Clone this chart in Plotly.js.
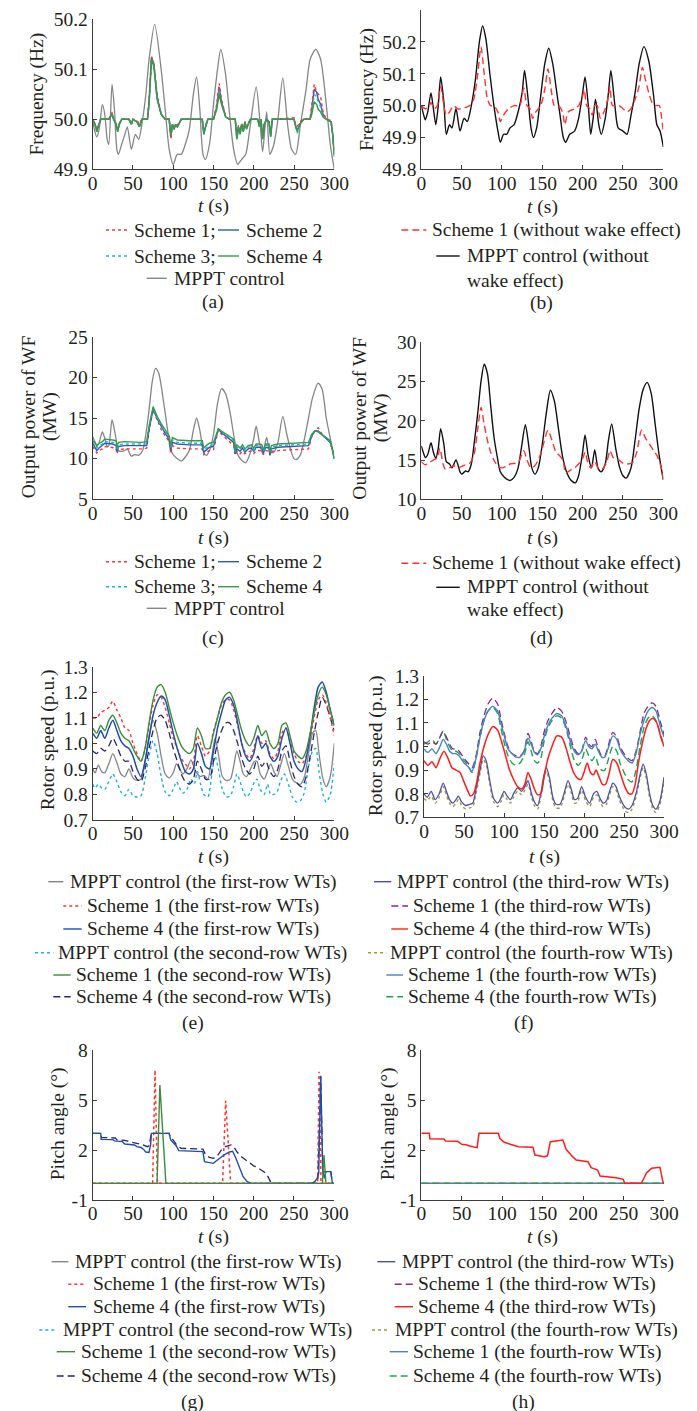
<!DOCTYPE html>
<html><head><meta charset="utf-8">
<script src="https://cdn.plot.ly/plotly-3.0.1.min.js"></script>
<style>html,body{margin:0;padding:0;background:#fff;}#chart{width:697px;height:1411px;}</style>
</head><body><div id="chart"></div>
<script>
// ---------- shared ticks ----------
const tTicks = [0,50,100,150,200,250,300];
const tickA = [49.9,50.0,50.1,50.2];
const tickB = [49.8,49.9,50.0,50.1,50.2,50.3];
const tickC = [5,10,15,20,25];
const tickD = [10,15,20,25,30];
const tickE = [0.7,0.8,0.9,1.0,1.1,1.2,1.3];
const tickG = [-1,2,5,8];
const tickGText = ['-1','2','5','8'];

// ---------- (a) frequency ----------
const tA_mppt = [0,2,5,8,12,15,18,20,24,27,30,32,36,40,43,48,53,57,62,66,70,77,85,90,95,100,105,110,115,120,125,129,133,137,140,145,150,155,159,165,170,175,180,185,190,195,203,208,211,216,220,225,230,236,242,247,252,258,265,270,277,283,290,295,300];
const fA_mppt = [50.0,49.98,49.965,49.98,50.03,50.01,49.96,49.95,50.07,50.02,49.94,49.93,49.95,49.97,49.985,49.94,49.97,49.96,50.0,50.05,50.12,50.19,50.1,50.02,49.94,49.91,49.93,49.93,49.95,49.98,50.05,50.085,50.02,49.93,49.92,49.95,50.03,50.1,50.14,50.09,50.01,49.94,49.91,49.92,49.93,49.98,50.065,49.99,49.935,50.015,49.93,49.95,50.0,50.083,49.99,49.94,49.93,49.99,50.06,50.12,50.14,50.12,50.03,49.95,49.90];
const tA_s = [0,3,5,8,10,20,22,24,26,29,31,33,36,45,48,50,55,58,61,68,70,73,76,80,85,90,95,97,99,101,103,105,110,136,138,140,143,150,154,157,160,165,170,177,179,181,183,185,187,189,191,193,196,205,207,209,211,213,216,219,221,223,250,252,254,257,262,270,272,275,278,280,283,286,290,296,298,300];
const fA_s1 = [50.0,49.99,49.98,49.99,50.0,50.0,50.01,50.013,50.0,49.992,49.98,49.992,50.0,50.0,49.995,50.0,49.998,49.99,50.0,50.0,50.04,50.125,50.11,50.05,50.01,50.0,50.0,49.96,49.99,49.982,49.99,49.988,50.0,50.0,49.975,49.988,50.0,50.0,50.03,50.072,50.04,50.005,50.0,50.0,49.965,49.988,49.975,49.992,49.98,49.995,49.985,49.992,50.0,50.0,49.99,50.0,49.965,49.99,50.0,49.998,49.97,50.0,50.003,49.99,49.985,49.995,50.0,50.002,50.03,50.07,50.055,50.05,50.045,50.015,50.0,49.998,49.97,49.94];
const fA_s2 = [50.0,49.99,49.978,49.99,50.0,50.0,50.008,50.012,50.0,49.99,49.978,49.99,50.0,50.0,49.99,50.0,49.995,49.985,50.0,50.0,50.035,50.125,50.11,50.045,50.01,50.0,50.0,49.965,49.99,49.98,49.99,49.985,50.0,50.0,49.972,49.985,50.0,50.0,50.025,50.065,50.035,50.005,50.0,50.0,49.962,49.985,49.972,49.99,49.977,49.995,49.982,49.99,50.0,50.0,49.987,50.0,49.962,49.99,50.0,49.995,49.967,50.0,50.0,49.985,49.978,49.99,50.0,50.0,50.02,50.06,50.055,50.04,50.03,50.01,50.0,49.995,49.97,49.93];
const fA_s3 = [50.0,49.99,49.976,49.99,50.0,50.0,50.006,50.01,50.0,49.99,49.976,49.99,50.0,50.0,49.99,50.0,49.995,49.985,50.0,50.0,50.032,50.12,50.105,50.042,50.01,50.0,50.0,49.966,49.99,49.98,49.99,49.985,50.0,50.0,49.97,49.985,50.0,50.0,50.022,50.06,50.032,50.005,50.0,50.0,49.962,49.985,49.97,49.99,49.975,49.995,49.98,49.99,50.0,50.0,49.985,50.0,49.96,49.99,50.0,49.995,49.965,50.0,50.0,49.982,49.972,49.99,50.0,50.0,50.015,50.05,50.045,50.035,50.025,50.008,50.0,49.995,49.97,49.93];
const fA_s4 = [50.0,49.99,49.975,49.99,50.0,50.0,50.005,50.01,50.0,49.99,49.975,49.99,50.0,50.0,49.99,50.0,49.995,49.985,50.0,50.0,50.03,50.12,50.105,50.04,50.01,50.0,50.0,49.968,49.99,49.98,49.99,49.985,50.0,50.0,49.97,49.985,50.0,50.0,50.02,50.05,50.03,50.005,50.0,50.0,49.96,49.985,49.97,49.99,49.975,49.995,49.98,49.99,50.0,50.0,49.985,50.0,49.96,49.99,50.0,49.995,49.965,50.0,50.0,49.985,49.975,49.99,50.0,50.0,50.01,50.035,50.03,50.02,50.015,50.005,50.0,49.995,49.97,49.925];

// ---------- (b) frequency without wake ----------
const tB_mppt = [0,3,5,8,12,15,18,21,24,28,31,35,38,43,48,53,57,62,67,72,76,80,85,90,95,98,102,106,110,115,120,125,128,132,136,139,143,148,153,158,163,168,172,176,179,184,190,195,200,203,207,210,213,216,220,223,228,232,235,240,244,250,255,260,265,270,276,282,288,292,296,300];
const fB_mppt = [50.0,49.97,49.955,49.98,50.04,49.99,49.94,50.0,50.09,50.01,49.91,49.94,49.93,49.99,49.92,49.96,49.95,50.0,50.08,50.2,50.25,50.21,50.1,50.0,49.92,49.885,49.91,49.91,49.93,49.94,49.98,50.04,50.11,50.03,49.93,49.9,49.93,50.03,50.13,50.18,50.13,50.04,49.97,49.9,49.885,49.91,49.92,49.96,50.04,50.09,50.0,49.91,49.96,50.02,49.94,49.91,49.96,50.04,50.11,50.0,49.93,49.92,49.91,49.97,50.04,50.13,50.185,50.14,50.03,49.94,49.92,49.87];
const tB_s1 = [0,5,10,12,16,20,24,28,31,35,40,45,50,60,65,70,74,78,82,86,90,95,98,102,108,115,122,127,131,135,138,142,148,153,157,161,165,170,175,178,182,190,195,200,202,205,209,212,215,218,222,228,232,234,237,245,250,255,260,265,270,274,278,282,286,290,295,298,300];
const fB_s1 = [50.0,49.99,50.0,50.01,49.99,50.0,50.06,50.0,49.97,49.98,50.0,49.99,49.99,50.0,50.02,50.1,50.185,50.1,50.02,50.0,50.0,49.98,49.95,49.97,49.99,50.0,50.0,50.055,50.0,49.99,49.96,49.98,50.0,50.05,50.115,50.05,50.0,50.0,49.98,49.94,49.98,49.99,50.0,50.03,50.05,50.0,49.99,49.97,50.0,50.0,49.96,49.99,50.03,50.06,50.0,50.0,49.99,49.98,49.99,50.02,50.06,50.12,50.08,50.04,50.01,50.0,50.0,49.96,49.92];

// ---------- (c) output power ----------
const tC_mppt = [0,3,5,8,12,15,18,20,24,28,32,35,40,43,48,52,57,62,66,70,74,78,82,88,93,97,100,105,110,115,120,125,129,133,138,141,145,150,155,160,165,170,175,180,185,190,195,200,203,207,211,216,220,225,230,236,241,246,250,253,258,263,268,273,280,285,290,295,300];
const pC_mppt = [12.7,12.0,11.5,12.0,13.3,12.5,11.5,11.6,14.8,13.0,11.0,10.9,11.0,11.2,10.3,10.5,10.4,11.0,13.0,16.0,19.5,21.1,20.5,17.0,13.5,11.0,10.5,10.0,9.7,10.2,11.0,13.5,15.0,13.5,10.7,10.4,11.0,13.0,16.8,18.6,18.0,16.0,13.0,10.5,9.8,9.5,10.5,12.5,14.0,12.0,10.6,12.6,10.8,10.8,12.0,15.2,13.0,11.0,10.0,9.9,10.5,12.5,15.0,17.5,19.3,18.5,15.0,12.5,10.0];
const tC_s = [0,3,5,8,12,15,25,29,30,32,40,60,67,70,75,80,85,90,95,97,99,105,120,136,138,141,145,150,156,160,165,170,175,177,179,183,186,189,193,197,200,203,207,210,212,215,219,220,222,230,250,268,272,276,280,285,290,295,298,300];
const pC_s1 = [11.5,11.0,10.7,11.0,11.2,11.5,11.4,11.3,10.6,11.1,11.2,11.2,11.3,13.4,16.0,14.7,13.6,12.8,12.1,10.6,11.6,11.3,11.2,11.2,10.5,10.8,11.0,11.1,13.5,13.0,12.5,12.1,11.6,10.4,10.9,10.6,10.9,10.6,10.9,10.9,10.6,11.0,11.0,10.9,10.5,11.0,10.9,10.4,10.9,11.0,11.1,11.2,12.7,13.5,13.8,13.0,12.5,12.0,11.0,10.0];
const pC_s2 = [11.9,11.4,11.0,11.3,11.6,11.9,11.8,11.6,10.9,11.5,11.6,11.6,11.6,13.6,16.1,14.9,13.9,13.1,12.4,11.0,12.0,11.8,11.7,11.7,10.8,11.1,11.4,11.5,13.6,13.2,12.8,12.5,12.0,10.6,11.2,10.9,11.3,10.8,11.2,11.3,10.9,11.4,11.4,11.3,10.7,11.4,11.3,10.5,11.2,11.4,11.5,11.6,12.8,13.4,13.4,12.9,12.4,12.0,11.0,10.0];
const pC_s3 = [12.0,11.7,11.3,11.6,11.8,12.1,12.0,11.9,11.1,11.7,11.8,11.8,11.8,13.8,16.2,15.0,14.0,13.3,12.6,11.3,12.3,12.0,11.9,11.9,11.0,11.3,11.6,11.7,13.6,13.3,12.9,12.6,12.2,10.8,11.4,11.1,11.5,11.0,11.4,11.5,11.1,11.6,11.6,11.5,10.9,11.6,11.6,10.7,11.4,11.6,11.7,11.8,12.9,13.4,13.3,12.9,12.5,12.1,11.0,10.0];
const pC_s4 = [12.2,12.0,11.6,11.9,12.1,12.4,12.3,12.2,11.4,12.0,12.1,12.0,12.1,14.0,16.4,15.2,14.3,13.5,12.8,11.6,12.6,12.3,12.2,12.2,11.3,11.6,11.9,12.0,13.7,13.4,13.1,12.8,12.4,11.0,11.7,11.3,11.7,11.2,11.6,11.7,11.3,11.8,11.8,11.7,11.1,11.8,11.8,10.8,11.6,11.8,11.9,12.0,13.0,13.4,13.3,13.0,12.6,12.2,11.0,10.0];

// ---------- (d) output power without wake ----------
const tD_mppt = [0,3,5,8,12,15,18,21,24,28,31,35,38,43,48,50,55,58,62,66,70,74,78,82,86,90,94,98,103,110,115,120,124,129,133,137,141,145,150,155,160,165,170,175,180,185,191,195,200,203,207,211,215,219,223,228,232,236,241,246,250,254,260,265,270,275,280,285,290,295,300];
const pD_mppt = [16.8,15.8,15.3,15.7,17.2,16.0,15.2,16.5,19.0,17.0,14.8,14.5,14.0,15.0,13.5,13.2,13.6,13.5,14.5,17.5,21.0,25.0,27.2,26.0,22.0,18.0,15.5,13.5,12.8,12.4,12.8,14.0,16.5,19.5,17.0,14.0,13.2,14.0,17.0,21.0,23.9,22.5,19.0,15.5,13.5,12.5,12.1,13.0,16.0,18.2,15.5,14.0,16.3,14.0,13.5,14.5,17.5,19.6,16.5,14.0,13.0,12.7,14.0,17.5,21.5,24.0,24.9,23.5,19.5,15.5,12.5];
const tD_s1 = [0,5,10,15,20,23,27,30,35,40,45,50,55,60,65,70,74,78,82,86,90,95,100,105,110,120,127,131,136,140,145,150,157,162,167,172,176,179,183,190,195,200,203,206,210,215,220,225,230,234,238,245,250,255,262,267,273,278,283,288,293,297,300];
const pD_s1 = [14.8,14.4,14.7,15.0,15.3,16.5,14.5,13.8,14.0,14.3,14.0,14.2,14.4,14.6,15.5,19.0,21.7,19.5,17.5,16.0,15.0,14.2,14.0,14.2,14.5,14.7,16.2,15.0,14.0,14.2,15.0,16.5,18.8,17.5,16.0,15.5,14.8,13.3,13.6,14.0,14.5,15.2,16.0,14.8,14.0,14.8,13.8,13.9,14.8,16.2,15.3,15.0,14.6,14.5,14.7,16.0,18.8,17.8,17.0,16.2,15.4,14.2,12.5];

// ---------- (e) rotor speed, rows 1-2 ----------
const tE_mppt = [0,3,7,11,15,20,25,30,35,40,45,50,55,60,65,70,75,80,85,90,95,100,104,108,112,117,122,126,130,134,138,143,148,152,156,161,166,171,175,179,183,187,191,196,201,204,208,213,217,221,225,229,233,238,243,248,253,258,263,268,273,277,281,286,290,295,300];
const wE_mppt1 = [0.90,0.885,0.915,0.89,0.885,0.92,0.96,0.925,0.88,0.87,0.9,0.865,0.855,0.86,0.93,1.03,1.09,1.04,0.95,0.88,0.865,0.885,0.92,0.9,0.88,0.9,0.935,0.905,0.88,0.87,0.875,0.86,0.95,1.02,0.96,0.87,0.855,0.86,0.91,0.97,0.93,0.88,0.87,0.9,0.93,0.93,0.88,0.86,0.89,0.92,0.89,0.87,0.91,0.96,0.91,0.86,0.845,0.84,0.87,0.96,1.04,1.05,0.96,0.86,0.83,0.87,1.0];
const wE_mppt2 = [0.84,0.825,0.84,0.825,0.82,0.85,0.88,0.85,0.81,0.795,0.82,0.795,0.79,0.795,0.86,0.95,1.01,0.96,0.87,0.81,0.795,0.82,0.85,0.825,0.805,0.82,0.86,0.84,0.89,0.84,0.8,0.79,0.88,0.95,0.9,0.82,0.79,0.795,0.83,0.88,0.85,0.81,0.79,0.81,0.85,0.86,0.82,0.8,0.84,0.8,0.8,0.81,0.85,0.88,0.84,0.79,0.77,0.775,0.81,0.91,0.97,0.98,0.89,0.8,0.77,0.8,0.92];
const tE_s = [0,5,10,15,20,25,30,35,40,45,50,55,60,65,70,75,80,85,90,95,100,105,110,115,120,125,130,135,140,145,150,155,160,165,170,175,180,185,190,195,200,205,210,215,220,225,230,235,240,245,250,255,260,265,270,275,280,285,290,295,300];
const wE_s1r1 = [1.1,1.1,1.12,1.13,1.14,1.165,1.13,1.1,1.06,1.05,1.0,0.96,0.93,0.98,1.07,1.15,1.19,1.18,1.14,1.08,1.02,0.98,0.94,0.92,0.9,0.93,1.03,0.99,0.95,0.97,1.05,1.1,1.15,1.17,1.17,1.13,1.07,1.0,0.96,0.94,0.98,1.03,1.0,1.01,0.96,0.94,0.97,1.04,1.06,1.01,0.96,0.93,0.92,0.95,1.02,1.1,1.17,1.19,1.16,1.1,1.03];
const wE_s4r1 = [1.04,1.02,1.05,1.02,1.06,1.09,1.05,1.01,0.99,0.98,0.95,0.9,0.87,0.93,1.02,1.11,1.16,1.185,1.17,1.11,1.04,0.98,0.93,0.89,0.88,0.9,1.0,0.96,0.91,0.9,0.97,1.06,1.12,1.17,1.18,1.15,1.08,1.0,0.95,0.93,0.96,1.03,0.98,1.0,0.95,0.93,0.95,1.02,1.06,1.0,0.93,0.9,0.89,0.94,1.03,1.14,1.22,1.24,1.2,1.13,1.07];
const wE_s1r2 = [1.06,1.04,1.07,1.05,1.09,1.11,1.08,1.04,1.02,1.01,0.98,0.95,0.93,0.98,1.08,1.17,1.22,1.23,1.2,1.14,1.08,1.03,0.99,0.97,0.96,0.98,1.06,1.03,0.98,0.98,1.04,1.1,1.16,1.19,1.2,1.17,1.11,1.05,1.01,0.99,1.02,1.07,1.03,1.05,1.0,0.98,1.0,1.07,1.08,1.03,0.97,0.95,0.94,0.97,1.04,1.12,1.19,1.22,1.19,1.13,1.07];
const wE_s4r2 = [0.97,0.96,0.98,0.97,0.99,1.02,0.99,0.95,0.93,0.93,0.89,0.86,0.85,0.9,0.98,1.05,1.1,1.11,1.09,1.04,0.98,0.93,0.88,0.85,0.84,0.86,0.93,0.9,0.86,0.86,0.93,1.0,1.05,1.08,1.08,1.05,1.0,0.94,0.9,0.88,0.9,0.95,0.91,0.93,0.89,0.87,0.9,0.97,0.99,0.93,0.87,0.84,0.83,0.87,0.95,1.04,1.12,1.18,1.15,1.1,1.05];

// ---------- (f) rotor speed, rows 3-4 ----------
const tF_mppt = [0,4,9,14,19,24,28,32,36,40,43,47,52,57,61,65,70,74,78,82,87,92,96,100,104,108,112,117,122,126,130,134,138,142,146,150,153,157,161,165,170,175,180,184,188,192,197,202,207,212,216,220,224,228,232,236,240,244,248,252,256,260,265,270,274,278,282,286,290,295,300];
const wF_mppt3 = [0.8,0.785,0.81,0.775,0.8,0.845,0.81,0.775,0.76,0.775,0.79,0.765,0.75,0.755,0.76,0.82,0.9,0.96,0.935,0.86,0.78,0.76,0.78,0.81,0.79,0.775,0.8,0.825,0.81,0.83,0.855,0.805,0.765,0.75,0.8,0.88,0.91,0.865,0.785,0.755,0.755,0.8,0.855,0.82,0.775,0.78,0.83,0.785,0.76,0.8,0.81,0.78,0.76,0.77,0.81,0.845,0.83,0.79,0.76,0.74,0.735,0.75,0.8,0.88,0.925,0.88,0.8,0.75,0.735,0.77,0.87];
const wF_mppt4 = [0.78,0.77,0.79,0.76,0.785,0.83,0.795,0.76,0.745,0.76,0.775,0.75,0.735,0.74,0.745,0.8,0.885,0.945,0.92,0.845,0.765,0.745,0.765,0.795,0.775,0.76,0.785,0.81,0.795,0.815,0.84,0.79,0.75,0.735,0.785,0.865,0.895,0.85,0.77,0.74,0.74,0.785,0.84,0.805,0.76,0.765,0.815,0.77,0.745,0.785,0.795,0.765,0.745,0.755,0.795,0.83,0.815,0.775,0.745,0.725,0.72,0.735,0.785,0.865,0.91,0.865,0.785,0.735,0.72,0.755,0.855];
const tF_s = [0,5,10,15,20,24,28,32,36,40,44,50,55,60,65,70,75,80,86,92,96,100,105,110,115,120,125,130,134,138,142,146,150,155,160,166,172,178,183,188,193,197,202,206,210,214,218,222,226,230,236,241,245,250,255,260,265,270,275,280,285,290,295,300];
const wF_s1r3 = [1.02,1.01,1.02,1.01,1.04,1.065,1.04,1.01,0.99,0.99,0.98,0.95,0.93,0.91,0.96,1.06,1.13,1.18,1.205,1.18,1.12,1.06,1.0,0.97,0.96,0.96,0.98,1.055,1.02,0.98,0.97,1.0,1.06,1.11,1.14,1.165,1.15,1.1,1.04,0.99,0.97,0.98,1.04,1.01,1.0,1.03,0.99,0.96,0.96,1.0,1.06,1.04,1.0,0.97,0.95,0.94,0.98,1.06,1.14,1.17,1.185,1.17,1.11,1.05];
const wF_s1r4 = [0.99,0.975,0.99,0.97,1.0,1.03,1.01,0.98,0.97,0.97,0.96,0.93,0.915,0.895,0.95,1.04,1.11,1.15,1.17,1.15,1.1,1.05,0.99,0.97,0.955,0.955,0.98,1.035,1.01,0.975,0.965,0.99,1.04,1.09,1.12,1.14,1.13,1.08,1.02,0.98,0.965,0.98,1.025,1.0,0.99,1.01,0.98,0.955,0.955,0.99,1.045,1.03,0.99,0.96,0.94,0.93,0.97,1.05,1.11,1.15,1.165,1.15,1.09,1.04];
const wF_s4r4 = [1.01,1.02,1.03,1.01,1.04,1.065,1.03,1.0,0.98,0.98,0.97,0.94,0.92,0.89,0.95,1.04,1.11,1.15,1.165,1.14,1.08,1.02,0.96,0.93,0.92,0.93,0.96,1.02,0.98,0.94,0.93,0.95,1.02,1.08,1.11,1.13,1.12,1.07,1.0,0.94,0.92,0.94,0.99,0.96,0.94,0.96,0.92,0.9,0.9,0.94,1.0,0.98,0.93,0.89,0.86,0.85,0.9,1.0,1.08,1.12,1.13,1.11,1.06,1.0];
const tF_s4r3 = [0,5,10,15,20,25,30,35,40,45,50,55,58,62,66,70,75,80,86,92,97,102,107,112,117,122,126,130,134,138,142,146,150,155,160,166,172,177,182,187,192,196,200,204,208,212,215,219,223,227,231,236,241,246,251,256,260,264,268,272,277,282,286,291,296,300];
const wF_s4r3 = [0.94,0.92,0.935,0.91,0.95,0.98,0.95,0.91,0.9,0.89,0.85,0.81,0.79,0.8,0.85,0.93,1.0,1.05,1.085,1.07,1.02,0.96,0.9,0.86,0.83,0.82,0.84,0.89,0.86,0.82,0.795,0.8,0.87,0.95,1.0,1.045,1.04,1.0,0.94,0.89,0.865,0.86,0.89,0.93,0.89,0.88,0.9,0.87,0.84,0.84,0.88,0.945,0.93,0.88,0.83,0.8,0.8,0.84,0.93,1.0,1.07,1.11,1.12,1.1,1.04,1.0];

// ---------- (g) pitch angle, rows 1-2 ----------
const tG_flat = [0,300];
const bG_mppt1 = [0,0];
const bG_mppt2 = [0,0];
const tG_s1r1 = [0,74.5,77.5,80.5,161.5,165.3,171.5,279.7,281.4,283.9,300];
const bG_s1r1 = [0,0,6.8,0,0,4.95,0,0,6.7,0,0];
const tG_s4r1 = [0,10,10.5,25,27,37,40,52,55,60,63,66,70,72,73,95,97,100,104,107,120,137,139,145,150,155,160,165,170,174,178,183,187,192,197,272,276,279,281,283.5,286,288,290,296,298,300];
const bG_s4r1 = [3.0,3.0,2.64,2.62,2.55,2.5,2.36,2.3,2.2,2.15,2.05,1.88,1.85,2.3,3.0,3.0,2.6,2.45,2.24,1.96,1.92,1.9,1.3,1.25,1.2,1.4,1.6,1.75,1.88,1.92,1.5,0.9,0.4,0.1,0.0,0.0,0.1,0.3,0.6,6.45,0.8,0.3,0.7,0.7,0.0,0.0];
const tG_s1r2 = [0,80,83.5,91,285.5,287.5,290,300];
const bG_s1r2 = [0,0,5.9,0,0,1.7,0,0];
const tG_s4r2 = [0,10,11,28,30,40,45,55,60,68,70,73,95,97,100,105,110,137,140,145,150,155,160,165,172,176,180,185,190,195,200,205,210,214,218,222,272,276,280,283.5,286,288,296,298,300];
const bG_s4r2 = [3.0,3.0,2.75,2.72,2.62,2.58,2.5,2.42,2.35,2.2,2.25,3.0,3.0,2.7,2.6,2.25,2.1,2.05,1.75,1.55,1.5,1.65,2.0,2.2,2.3,2.15,1.85,1.6,1.4,1.2,1.05,0.95,0.8,0.65,0.4,0.0,0.0,0.1,0.3,6.4,0.6,0.7,0.7,0.0,0.0];

// ---------- (h) pitch angle, rows 3-4 ----------
const bH_mppt3 = [0,0];
const bH_s1r3 = [0,0];
const bH_mppt4 = [0,0];
const bH_s1r4 = [0,0];
const bH_s4r4 = [0,0];
const tH_s4r3 = [0,10,10.5,28,30,45,50,55,60,65,69,71.3,95.3,97,102,110,120,138,140.5,152,156,159.5,175,179,183,187,191.5,206,210,218,221,241,249.5,251.5,272,275,278.5,284.7,295,299,300];
const bH_s4r3 = [3.0,3.0,2.68,2.66,2.54,2.52,2.34,2.32,2.24,2.16,2.14,3.0,3.0,2.7,2.48,2.34,2.2,2.16,1.7,1.6,1.65,2.5,2.6,2.04,1.8,1.6,1.4,1.3,0.94,0.8,0.44,0.34,0.24,0.0,0.0,0.3,0.64,0.9,0.96,0.0,0.0];

// ================= drawing =================
const W = 697, H = 1411;
const FONT = 'Liberation Serif';
const FS = 19.5;
const TXT = '#231f20';
const AXC = '#3a3a3a';
const px = v => v / W;
const py = v => 1 - v / H;

const C = {
  red:'#ff3232', blue2:'#2c5cb6', cyan:'#1cb0ee', green:'#3a9a48', grey:'#858585', black:'#111111',
  blueE:'#1f4fa8', greenE:'#3a8c3a', navy:'#262670',
  slate:'#4e4ea2', purple:'#7c2d92', redF:'#ff1c1c', olive:'#9b9b3c', steel:'#4b80c2', greenF:'#1ca64c'
};
const DASH = {solid:'solid', dot:'dot', dash:'7px,4px'};

// plot boxes in pixels: [x0, x1, yTop, yBottom]
const box = {
  a:[92.7,334.3,19.3,169.3], b:[421.3,663.3,10,169.3],
  c:[92.7,334.3,336.7,499.3], d:[421.3,663.3,342.3,499.3],
  e:[92.7,334.3,666.7,820], f:[424,664,675.7,817.3],
  g:[92.7,334,1050,1200], h:[421.3,664,1050,1200]
};
const order = ['a','b','c','d','e','f','g','h'];
const ranges = {a:[49.9,50.2], b:[49.8,50.3], c:[5,25], d:[10,30], e:[0.7,1.3], f:[0.7,1.3], g:[-1,8], h:[-1,8]};
const yticks = {a:tickA, b:tickB, c:tickC, d:tickD, e:tickE, f:tickE, g:tickG, h:tickG};
const yfmt = {a:'.1f', b:'.1f', c:'d', d:'d', e:'.1f', f:'.1f'};

const layout = {
  width:W, height:H, margin:{l:0,r:0,t:0,b:0}, showlegend:false,
  paper_bgcolor:'#fff', plot_bgcolor:'rgba(0,0,0,0)',
  font:{family:FONT, size:FS, color:TXT}, annotations:[], shapes:[]
};
order.forEach((k,i) => {
  const n = i === 0 ? '' : String(i+1);
  const b = box[k];
  const common = {showline:true, linecolor:AXC, linewidth:1, ticks:'inside', ticklen:4, tickcolor:AXC,
    showgrid:false, zeroline:false, fixedrange:true, tickfont:{family:FONT, size:FS, color:TXT}};
  layout['xaxis'+n] = Object.assign({}, common, {domain:[px(b[0]), px(b[1])], range:[0,300], tickvals:tTicks, anchor:'y'+n, ticklabelstandoff:-4});
  const ya = Object.assign({}, common, {domain:[py(b[3]), py(b[2])], range:ranges[k], tickvals:yticks[k], anchor:'x'+n, ticklabelstandoff:0});
  if (yfmt[k]) ya.tickformat = yfmt[k];
  if (k === 'g' || k === 'h') ya.ticktext = tickGText;
  layout['yaxis'+n] = ya;
});

const traces = [];
function add(k, x, y, color, dash, width, spline){
  const i = order.indexOf(k); const n = i === 0 ? '' : String(i+1);
  traces.push({type:'scatter', mode:'lines', x:x, y:y, xaxis:'x'+n, yaxis:'y'+n, hoverinfo:'skip',
    line:{color:color, width:width||1.3, dash:DASH[dash||'solid'], shape:spline?'spline':'linear', smoothing:0.7}});
}
// (a)
add('a', tA_mppt, fA_mppt, C.grey, 'solid', 1.3, true);
add('a', tA_s, fA_s2, C.blue2, 'solid', 1.4);
add('a', tA_s, fA_s3, C.cyan, 'dot', 1.4);
add('a', tA_s, fA_s1, C.red, 'dot', 1.4);
add('a', tA_s, fA_s4, C.green, 'solid', 1.5);
// (b)
add('b', tB_mppt, fB_mppt, C.black, 'solid', 1.4, true);
add('b', tB_s1, fB_s1, C.red, 'dash', 1.4, true);
// (c)
add('c', tC_mppt, pC_mppt, C.grey, 'solid', 1.3, true);
add('c', tC_s, pC_s1, C.red, 'dot', 1.4);
add('c', tC_s, pC_s2, C.blue2, 'solid', 1.4);
add('c', tC_s, pC_s3, C.cyan, 'dot', 1.4);
add('c', tC_s, pC_s4, C.green, 'solid', 1.4);
// (d)
add('d', tD_mppt, pD_mppt, C.black, 'solid', 1.4, true);
add('d', tD_s1, pD_s1, C.red, 'dash', 1.4, true);
// (e)
add('e', tE_mppt, wE_mppt1, C.grey, 'solid', 1.3, true);
add('e', tE_mppt, wE_mppt2, C.cyan, 'dot', 1.4, true);
add('e', tE_s, wE_s4r2, C.navy, 'dash', 1.3, true);
add('e', tE_s, wE_s1r1, C.red, 'dot', 1.4, true);
add('e', tE_s, wE_s4r1, C.blueE, 'solid', 1.5, true);
add('e', tE_s, wE_s1r2, C.greenE, 'solid', 1.4, true);
// (f)
add('f', tF_mppt, wF_mppt4, C.olive, 'dot', 1.4, true);
add('f', tF_mppt, wF_mppt3, C.slate, 'solid', 1.3, true);
add('f', tF_s, wF_s4r4, C.greenF, 'dash', 1.4, true);
add('f', tF_s, wF_s1r3, C.purple, 'dash', 1.3, true);
add('f', tF_s, wF_s1r4, C.steel, 'solid', 1.4, true);
add('f', tF_s4r3, wF_s4r3, C.redF, 'solid', 1.5, true);
// (g)
add('g', tG_flat, bG_mppt1, C.grey, 'solid', 1.3);
add('g', tG_flat, bG_mppt2, '#e8a040', 'dot', 1.4);
add('g', tG_s4r2, bG_s4r2, C.navy, 'dash', 1.3);
add('g', tG_s1r1, bG_s1r1, C.red, 'dot', 1.5);
add('g', tG_s4r1, bG_s4r1, C.blueE, 'solid', 1.4);
add('g', tG_s1r2, bG_s1r2, C.greenE, 'solid', 1.4);
// (h)
add('h', tG_flat, bH_mppt3, C.slate, 'solid', 1.3);
add('h', tG_flat, bH_s1r3, C.purple, 'dash', 1.3);
add('h', tG_flat, bH_mppt4, C.olive, 'dot', 1.3);
add('h', tG_flat, bH_s1r4, C.steel, 'solid', 1.4);
add('h', tG_flat, bH_s4r4, C.greenF, 'dash', 1.3);
add('h', tH_s4r3, bH_s4r3, C.redF, 'solid', 1.5);

// ---------- text helpers ----------
function txt(x, y, s, anchor, angle){
  layout.annotations.push({xref:'paper', yref:'paper', x:px(x), y:py(y), text:s, showarrow:false,
    xanchor:anchor||'center', yanchor:'middle', textangle:angle||0,
    font:{family:FONT, size:FS, color:TXT}});
}
function leg(x0, x1, y, color, dash, label, tx){
  layout.shapes.push({type:'line', xref:'paper', yref:'paper', x0:px(x0), x1:px(x1), y0:py(y), y1:py(y),
    line:{color:color, width:1.4, dash:DASH[dash]}});
  txt(tx, y, label, 'left');
}
// axis titles
const T = '<i>t</i> (s)';
txt(213.5, 206, T); txt(542.3, 207, T);
txt(213.5, 537.5, T); txt(542.3, 537.5, T);
txt(213.5, 857, T); txt(544, 857, T);
txt(213.5, 1237, T); txt(542.6, 1237, T);
txt(37.3, 94.3, 'Frequency (Hz)', 'center', -90);
txt(366.3, 89.7, 'Frequency (Hz)', 'center', -90);
txt(28.3, 417, 'Output power of WF', 'center', -90);
txt(50, 417, '(MW)', 'center', -90);
txt(359.7, 418, 'Output power of WF', 'center', -90);
txt(381.3, 418, '(MW)', 'center', -90);
txt(48.3, 740, 'Rotor speed (p.u.)', 'center', -90);
txt(376.3, 746, 'Rotor speed (p.u.)', 'center', -90);
txt(58.3, 1124, 'Pitch angle (°)', 'center', -90);
txt(388.3, 1124, 'Pitch angle (°)', 'center', -90);

// legends (a) and (c)
[[230,256,278.3,301.7,'(a)'],[561.7,586.7,608.3,638.3,'(c)']].forEach(r => {
  leg(106,127,r[0],C.red,'dot','Scheme 1;',131.7);
  leg(218,239,r[0],C.blue2,'solid','Scheme 2',244);
  leg(106,127,r[1],C.cyan,'dot','Scheme 3;',131.7);
  leg(218,239,r[1],C.green,'solid','Scheme 4',244);
  leg(146.7,166.7,r[2],C.grey,'solid','MPPT control',171.7);
  txt(213, r[3], r[4]);
});
// legends (b) and (d)
[[230,256,280.7,303.3,'(b)'],[563.3,587.3,610,638.3,'(d)']].forEach(r => {
  leg(401.3,426.3,r[0],C.red,'dash','Scheme 1 (without wake effect)',429.7);
  leg(436.3,459.7,r[1],C.black,'solid','MPPT control (without',464.7);
  txt(464.7, r[2], 'wake effect)', 'left');
  txt(541.3, r[3], r[4]);
});
// legend (e)
const rowsE = [881.7,906,929,952.7,975,996.7];
leg(48.3,63.3,rowsE[0],C.grey,'solid','MPPT control (the first-row WTs)',68.3);
leg(63.3,81.7,rowsE[1],C.red,'dot','Scheme 1 (the first-row WTs)',85);
leg(63.3,81.7,rowsE[2],C.blueE,'solid','Scheme 4 (the first-row WTs)',85);
leg(35,53.3,rowsE[3],C.cyan,'dot','MPPT control (the second-row WTs)',56);
leg(53.3,70.7,rowsE[4],C.greenE,'solid','Scheme 1 (the second-row WTs)',74);
leg(53.3,70.7,rowsE[5],C.navy,'dash','Scheme 4 (the second-row WTs)',74);
txt(192.7, 1022.7, '(e)');
// legend (f)
leg(374,391.3,rowsE[0],C.slate,'solid','MPPT control (the third-row WTs)',394.7);
leg(391.3,408,rowsE[1],C.purple,'dash','Scheme 1 (the third-row WTs)',411.3);
leg(391.3,408,rowsE[2],C.redF,'solid','Scheme 4 (the third-row WTs)',411.3);
leg(368,386.3,rowsE[3],C.olive,'dot','MPPT control (the fourth-row WTs)',388);
leg(386.3,403,rowsE[4],C.steel,'solid','Scheme 1 (the fourth-row WTs)',406.3);
leg(386.3,403,rowsE[5],C.greenF,'dash','Scheme 4 (the fourth-row WTs)',406.3);
txt(523, 1022.7, '(f)');
// legend (g)
const rowsG = [1261.7,1284.3,1306.7,1330,1351.7,1376];
leg(51.7,68.3,rowsG[0],C.grey,'solid','MPPT control (the first-row WTs)',72.7);
leg(68.3,86,rowsG[1],C.red,'dot','Scheme 1 (the first-row WTs)',90.7);
leg(68.3,86,rowsG[2],C.blueE,'solid','Scheme 4 (the first-row WTs)',90.7);
leg(39.3,56,rowsG[3],C.cyan,'dot','MPPT control (the second-row WTs)',61);
leg(56.7,75,rowsG[4],C.greenE,'solid','Scheme 1 (the second-row WTs)',79.3);
leg(56.7,75,rowsG[5],C.navy,'dash','Scheme 4 (the second-row WTs)',79.3);
txt(192.7, 1401.7, '(g)');
// legend (h)
leg(377.3,395.3,rowsG[0],C.slate,'solid','MPPT control (the third-row WTs)',399.7);
leg(394.7,413,rowsG[1],C.purple,'dash','Scheme 1 (the third-row WTs)',416.3);
leg(394.7,413,rowsG[2],C.redF,'solid','Scheme 4 (the third-row WTs)',416.3);
leg(372,389.7,rowsG[3],C.olive,'dot','MPPT control (the fourth-row WTs)',393);
leg(389.7,408,rowsG[4],C.steel,'solid','Scheme 1 (the fourth-row WTs)',411.3);
leg(389.7,408,rowsG[5],C.greenF,'dash','Scheme 4 (the fourth-row WTs)',411.3);
txt(523, 1401.7, '(h)');

Plotly.newPlot('chart', traces, layout, {staticPlot:true, displayModeBar:false});
</script>
</body></html>
